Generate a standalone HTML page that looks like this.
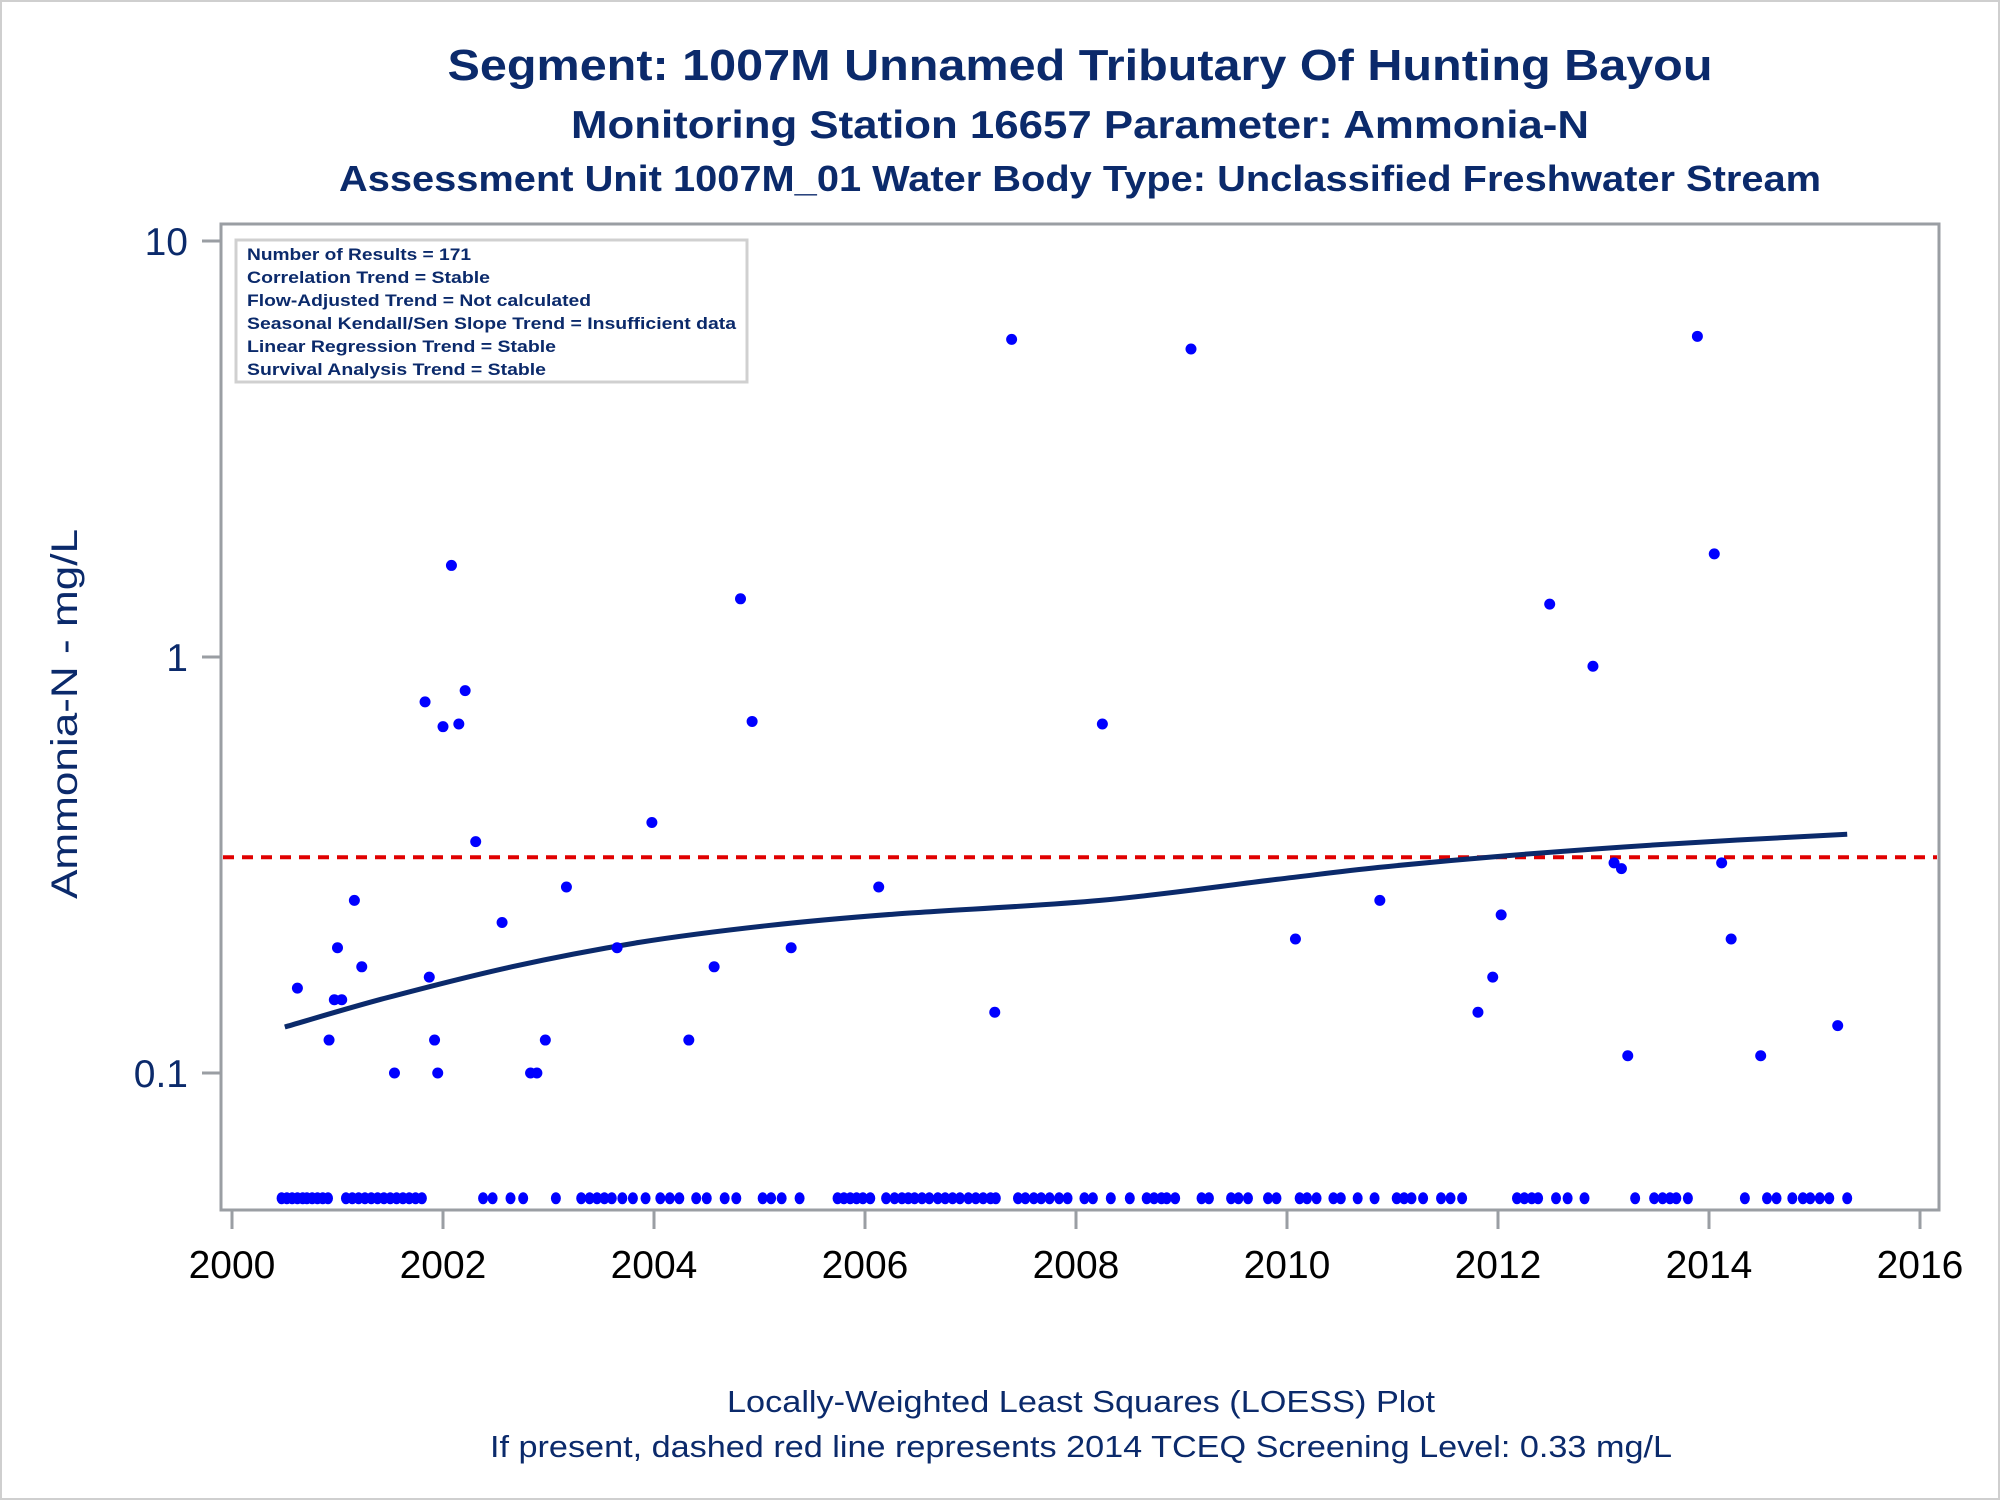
<!DOCTYPE html>
<html><head><meta charset="utf-8"><style>
html,body{margin:0;padding:0;background:#fff;}
svg{display:block;font-family:"Liberation Sans",sans-serif;}
</style></head><body>
<svg id="chart" width="2000" height="1500" viewBox="0 0 2000 1500" xmlns="http://www.w3.org/2000/svg">
<rect x="1" y="1" width="1998" height="1498" fill="#fff" stroke="#cfcfcf" stroke-width="2"/>
<g fill="#0b2a6b" font-weight="bold" text-anchor="middle">
<text x="1080" y="80" font-size="44" textLength="1265" lengthAdjust="spacingAndGlyphs">Segment: 1007M  Unnamed Tributary Of Hunting Bayou</text>
<text x="1080" y="138" font-size="39" textLength="1018" lengthAdjust="spacingAndGlyphs">Monitoring Station 16657 Parameter: Ammonia-N</text>
<text x="1080" y="191" font-size="36" textLength="1482" lengthAdjust="spacingAndGlyphs">Assessment Unit 1007M_01   Water Body Type: Unclassified Freshwater Stream</text>
</g>
<g fill="#0b2a6b" text-anchor="middle" font-size="31">
<text x="1081" y="1412" textLength="708" lengthAdjust="spacingAndGlyphs">Locally-Weighted Least Squares (LOESS) Plot</text>
<text x="1081" y="1457" textLength="1182" lengthAdjust="spacingAndGlyphs">If present, dashed red line represents 2014 TCEQ Screening Level: 0.33 mg/L</text>
</g>
<text transform="translate(77,714) rotate(-90)" text-anchor="middle" font-size="37" fill="#0b2a6b" textLength="370" lengthAdjust="spacingAndGlyphs">Ammonia-N - mg/L</text>
<g id="axes"></g>
<g id="marks"></g>
<rect x="221" y="224" width="1718" height="986" fill="none" stroke="#9a9ea3" stroke-width="3"/>
<g>
<rect x="236" y="240" width="511" height="142" fill="#fff" stroke="#d0d0d0" stroke-width="3"/>
<g fill="#0b2a6b" font-weight="bold" font-size="17">
<text x="247" y="260" textLength="224" lengthAdjust="spacingAndGlyphs">Number of Results = 171</text>
<text x="247" y="283" textLength="243" lengthAdjust="spacingAndGlyphs">Correlation Trend = Stable</text>
<text x="247" y="306" textLength="344" lengthAdjust="spacingAndGlyphs">Flow-Adjusted Trend = Not calculated</text>
<text x="247" y="329" textLength="489" lengthAdjust="spacingAndGlyphs">Seasonal Kendall/Sen Slope Trend = Insufficient data</text>
<text x="247" y="352" textLength="309" lengthAdjust="spacingAndGlyphs">Linear Regression Trend = Stable</text>
<text x="247" y="375" textLength="299" lengthAdjust="spacingAndGlyphs">Survival Analysis Trend = Stable</text>
</g></g>
</svg>
<script>
const xTicks = [2000, 2002, 2004, 2006, 2008, 2010, 2012, 2014, 2016];
const yTicks = [0.1, 1, 10];
const yTickLabels = ["0.1", "1", "10"];
const screeningLevel = 0.33;
const detectYears = [2000.62,2000.92,2000.97,2001.00,2001.04,2001.16,2001.23,2001.54,2001.83,2001.87,2001.92,2001.95,2002.00,2002.08,2002.15,2002.21,2002.31,2002.56,2002.83,2002.89,2002.97,2003.17,2003.65,2003.98,2004.33,2004.57,2004.82,2004.93,2005.30,2006.13,2007.23,2007.39,2008.25,2009.09,2010.08,2010.88,2011.81,2011.95,2012.03,2012.49,2012.90,2013.10,2013.17,2013.23,2013.89,2014.05,2014.12,2014.21,2014.49,2015.22];
const detectValues = [0.16,0.12,0.15,0.20,0.15,0.26,0.18,0.10,0.78,0.17,0.12,0.10,0.68,1.66,0.69,0.83,0.36,0.23,0.10,0.10,0.12,0.28,0.20,0.40,0.12,0.18,1.38,0.70,0.20,0.28,0.14,5.8,0.69,5.5,0.21,0.26,0.14,0.17,0.24,1.34,0.95,0.32,0.31,0.11,5.9,1.77,0.32,0.21,0.11,0.13];
const nondetectYears = [2000.47,2000.52,2000.57,2000.62,2000.67,2000.71,2000.76,2000.81,2000.86,2000.91,2001.08,2001.14,2001.20,2001.26,2001.32,2001.38,2001.44,2001.50,2001.56,2001.62,2001.68,2001.74,2001.80,2002.38,2002.47,2002.64,2002.76,2003.07,2003.31,2003.39,2003.46,2003.53,2003.60,2003.70,2003.80,2003.92,2004.06,2004.15,2004.24,2004.40,2004.50,2004.67,2004.78,2005.03,2005.11,2005.21,2005.38,2005.74,2005.80,2005.86,2005.92,2005.98,2006.05,2006.20,2006.28,2006.35,2006.41,2006.47,2006.54,2006.61,2006.69,2006.76,2006.83,2006.90,2006.98,2007.05,2007.12,2007.19,2007.24,2007.45,2007.52,2007.60,2007.67,2007.75,2007.84,2007.92,2008.08,2008.16,2008.33,2008.51,2008.67,2008.74,2008.81,2008.86,2008.94,2009.19,2009.26,2009.47,2009.54,2009.63,2009.82,2009.90,2010.12,2010.19,2010.28,2010.44,2010.51,2010.67,2010.83,2011.04,2011.11,2011.18,2011.29,2011.46,2011.55,2011.66,2012.18,2012.25,2012.32,2012.38,2012.55,2012.66,2012.82,2013.30,2013.48,2013.56,2013.63,2013.69,2013.80,2014.34,2014.55,2014.64,2014.79,2014.89,2014.96,2015.05,2015.14,2015.31];
const nondetectValue = 0.05;
const loessYears = [2000.50,2001.44,2002.65,2003.86,2005.07,2006.28,2008.23,2009.90,2010.87,2012.08,2013.53,2015.31];
const loessValues = [0.129,0.151,0.180,0.206,0.226,0.241,0.260,0.292,0.312,0.333,0.354,0.375];

const NS = "http://www.w3.org/2000/svg";
const X0 = 232, PX_PER_YEAR = 105.5;
const Y10 = 241, PX_PER_DECADE = 416;
function xScale(yr){ return X0 + (yr - 2000) * PX_PER_YEAR; }
function yScale(v){ return Y10 + (1 - Math.log10(v)) * PX_PER_DECADE; }
function mk(tag, attrs, parent){ const e = document.createElementNS(NS, tag); for (const k in attrs) e.setAttribute(k, attrs[k]); parent.appendChild(e); return e; }

const axes = document.getElementById('axes');
const marks = document.getElementById('marks');
xTicks.forEach(function(t){
  const x = xScale(t);
  const ln = mk('line', {x1:x, x2:x, y1:1210, y2:1229, stroke:'#9a9ea3', 'stroke-width':3}, axes);
  
  
  const tx = mk('text', {x:x, y:1278, 'text-anchor':'middle', 'font-size':39, fill:'#000'}, axes);
  tx.textContent = String(t);
  
  
});
yTicks.forEach(function(t, i){
  const y = yScale(t);
  const ln = mk('line', {x1:202, x2:221, y1:y, y2:y, stroke:'#9a9ea3', 'stroke-width':3}, axes);
  
  
  const tx = mk('text', {x:188, y:y + 14, 'text-anchor':'end', 'font-size':39, fill:'#0b2a6b'}, axes);
  tx.textContent = yTickLabels[i];
  
  
});
const ry = yScale(screeningLevel);
const red = mk('line', {x1:223, x2:1937, y1:ry, y2:ry, stroke:'#e00000', 'stroke-width':4, 'stroke-dasharray':'11 8'}, marks);


const P = loessYears.map(function(yr, i){ return [xScale(yr), yScale(loessValues[i])]; });
let d = 'M' + P[0][0].toFixed(1) + ',' + P[0][1].toFixed(1);
for (let i = 0; i < P.length - 1; i++) {
  const p0 = P[Math.max(0, i - 1)], p1 = P[i], p2 = P[i + 1], p3 = P[Math.min(P.length - 1, i + 2)];
  const c1 = [p1[0] + (p2[0] - p0[0]) / 6, p1[1] + (p2[1] - p0[1]) / 6];
  const c2 = [p2[0] - (p3[0] - p1[0]) / 6, p2[1] - (p3[1] - p1[1]) / 6];
  d += ' C' + c1[0].toFixed(1) + ',' + c1[1].toFixed(1) + ' ' + c2[0].toFixed(1) + ',' + c2[1].toFixed(1) + ' ' + p2[0].toFixed(1) + ',' + p2[1].toFixed(1);
}
const lo = mk('path', {d:d, fill:'none', stroke:'#0b2a6b', 'stroke-width':5, 'stroke-linejoin':'round'}, marks);


detectYears.forEach(function(yr, i){
  const c = mk('circle', {cx:xScale(yr), cy:yScale(detectValues[i]), r:5.5, fill:'#0000ff'}, marks);
  
  
});
nondetectYears.forEach(function(yr){
  const c = mk('ellipse', {cx:xScale(yr), cy:yScale(nondetectValue), rx:5, ry:6, fill:'#0000ff'}, marks);
  
  
});
</script>
</body></html>
